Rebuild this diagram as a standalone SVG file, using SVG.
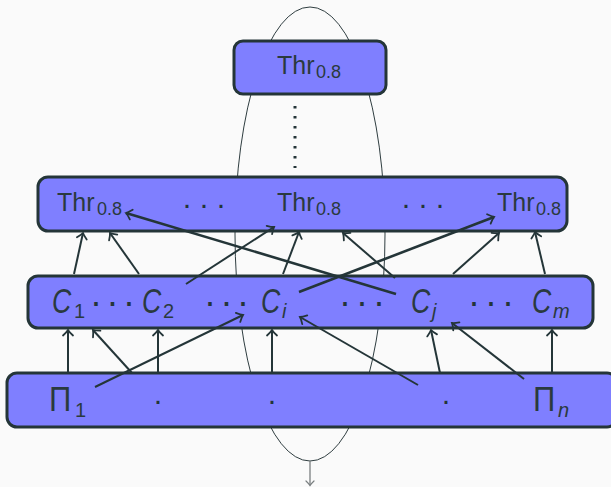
<svg xmlns="http://www.w3.org/2000/svg" width="611" height="487" viewBox="0 0 611 487">
  <defs>
    <style>
      .box { fill: #7f7fff; stroke: #243538; stroke-width: 3; }
      .lbl { font-family: "Liberation Sans", Arial, sans-serif; fill: #2a3a3e; }
      .thr { font-size: 25px; }
      .sub { font-size: 18px; }
      .big { font-size: 36px; }
      .bsub { font-size: 20px; }
      .it { font-style: italic; }
      .dots { font-family: "Liberation Sans", Arial, sans-serif; fill: #243538; text-anchor: middle; }
      .d30 { font-size: 30px; }
      .d36 { font-size: 36px; }
      .edge { fill: none; stroke: #243538; stroke-width: 2; marker-end: url(#tip); }
      .heavy { stroke-width: 2.6; }
    </style>
    <marker id="tip" markerUnits="userSpaceOnUse" viewBox="-8 -7 10 14" refX="0" refY="0" markerWidth="10" markerHeight="14" orient="auto" overflow="visible">
      <path d="M -5.5 -5 Q -2 -1.2 0 0 Q -2 1.2 -5.5 5" fill="none" stroke="#243538" stroke-width="1.8" stroke-linecap="round"/>
    </marker>
    <marker id="tipGray" markerUnits="userSpaceOnUse" viewBox="-8 -7 10 14" refX="0" refY="0" markerWidth="10" markerHeight="14" orient="auto" overflow="visible">
      <path d="M -4.5 -4 Q -1.6 -1 0 0 Q -1.6 1 -4.5 4" fill="none" stroke="#7a7f80" stroke-width="1.2" stroke-linecap="round"/>
    </marker>
  </defs>

  <rect x="0" y="0" width="611" height="487" fill="#fafafa"/>

  <!-- enclosing loop behind the layers -->
  <g id="loop">
    <ellipse cx="310" cy="234" rx="75" ry="227" fill="none" stroke="#2f3d40" stroke-width="1"/>
    <line x1="310" y1="461" x2="310" y2="485.5" stroke="#7a7f80" stroke-width="1.3" marker-end="url(#tipGray)"/>
  </g>

  <!-- top threshold -->
  <g id="thr-top">
    <rect class="box" x="234" y="41" width="152" height="53" rx="9"/>
    <text class="lbl thr" x="277" y="74">Thr<tspan class="sub" x="316" y="78">0.8</tspan></text>
  </g>

  <!-- vertical ellipsis between the threshold layers -->
  <g id="vdots">
    <line x1="295" y1="106" x2="295" y2="168" stroke="#243538" stroke-width="3" stroke-dasharray="2.5 7.5" />
  </g>

  <!-- threshold layer -->
  <g id="thr-row">
    <rect class="box" x="38" y="177" width="529" height="54" rx="10"/>
    <text class="lbl thr" x="57" y="211">Thr<tspan class="sub" x="97" y="215">0.8</tspan></text>
    <text class="dots d30" x="187 204 221" y="214">···</text>
    <text class="lbl thr" x="277" y="211">Thr<tspan class="sub" x="316" y="215">0.8</tspan></text>
    <text class="dots d30" x="406 423 440" y="214">···</text>
    <text class="lbl thr" x="497" y="211">Thr<tspan class="sub" x="536" y="215">0.8</tspan></text>
  </g>

  <!-- clause layer (C glyphs narrowed horizontally) -->
  <g id="clause-row">
    <rect class="box" x="28" y="276" width="565" height="52" rx="10"/>
    <text class="lbl big it" transform="translate(52 313) scale(0.74 1)">C</text>
    <text class="lbl bsub" x="74" y="318">1</text>
    <text class="dots d36" x="96 112.5 129" y="314">···</text>
    <text class="lbl big it" transform="translate(142 313) scale(0.74 1)">C</text>
    <text class="lbl bsub" x="163" y="318">2</text>
    <text class="dots d36" x="210 226.5 243" y="314">···</text>
    <text class="lbl big it" transform="translate(261 313) scale(0.74 1)">C</text>
    <text class="lbl bsub it" x="282" y="318">i</text>
    <text class="dots d36" x="345 362 379" y="314">···</text>
    <text class="lbl big it" transform="translate(411 313) scale(0.74 1)">C</text>
    <text class="lbl bsub it" x="432" y="318">j</text>
    <text class="dots d36" x="474 491 508" y="314">···</text>
    <text class="lbl big it" transform="translate(532 313) scale(0.74 1)">C</text>
    <text class="lbl bsub it" x="553" y="318">m</text>
  </g>

  <!-- input layer -->
  <g id="input-row">
    <rect class="box" x="7" y="373" width="610" height="54" rx="10"/>
    <text class="lbl big" transform="translate(49 411) scale(0.86 1)">Π</text>
    <text class="lbl bsub" x="75" y="417">1</text>
    <text class="dots d30" x="158" y="410">·</text>
    <text class="dots d30" x="272" y="410">·</text>
    <text class="dots d30" x="446" y="410">·</text>
    <text class="lbl big" transform="translate(533 411) scale(0.86 1)">Π</text>
    <text class="lbl bsub it" x="558" y="417">n</text>
  </g>

  <!-- connectors -->
  <g id="connectors">
    <!-- clauses to thresholds -->
    <line class="edge" x1="74" y1="274" x2="83" y2="233"/>
    <line class="edge" x1="139" y1="274" x2="110" y2="233"/>
    <line class="edge" x1="186" y1="284" x2="274" y2="227"/>
    <line class="edge heavy" x1="396" y1="294" x2="126" y2="213"/>
    <line class="edge" x1="283" y1="274" x2="299" y2="232"/>
    <line class="edge" x1="395" y1="278" x2="343" y2="233"/>
    <line class="edge heavy" x1="299" y1="292" x2="494" y2="217"/>
    <line class="edge" x1="453" y1="274" x2="499" y2="233"/>
    <line class="edge" x1="545" y1="274" x2="535" y2="232"/>
    <!-- inputs to clauses -->
    <line class="edge" x1="68" y1="373" x2="68" y2="330"/>
    <line class="edge" x1="132" y1="373" x2="93" y2="330"/>
    <line class="edge" x1="158" y1="373" x2="158" y2="330"/>
    <line class="edge" x1="95" y1="387" x2="243" y2="315"/>
    <line class="edge" x1="272" y1="373" x2="272" y2="330"/>
    <line class="edge" x1="418" y1="385" x2="300" y2="317"/>
    <line class="edge" x1="440" y1="373" x2="431" y2="330"/>
    <line class="edge" x1="524" y1="379" x2="452" y2="323"/>
    <line class="edge" x1="552" y1="373" x2="552" y2="330"/>
  </g>
</svg>
